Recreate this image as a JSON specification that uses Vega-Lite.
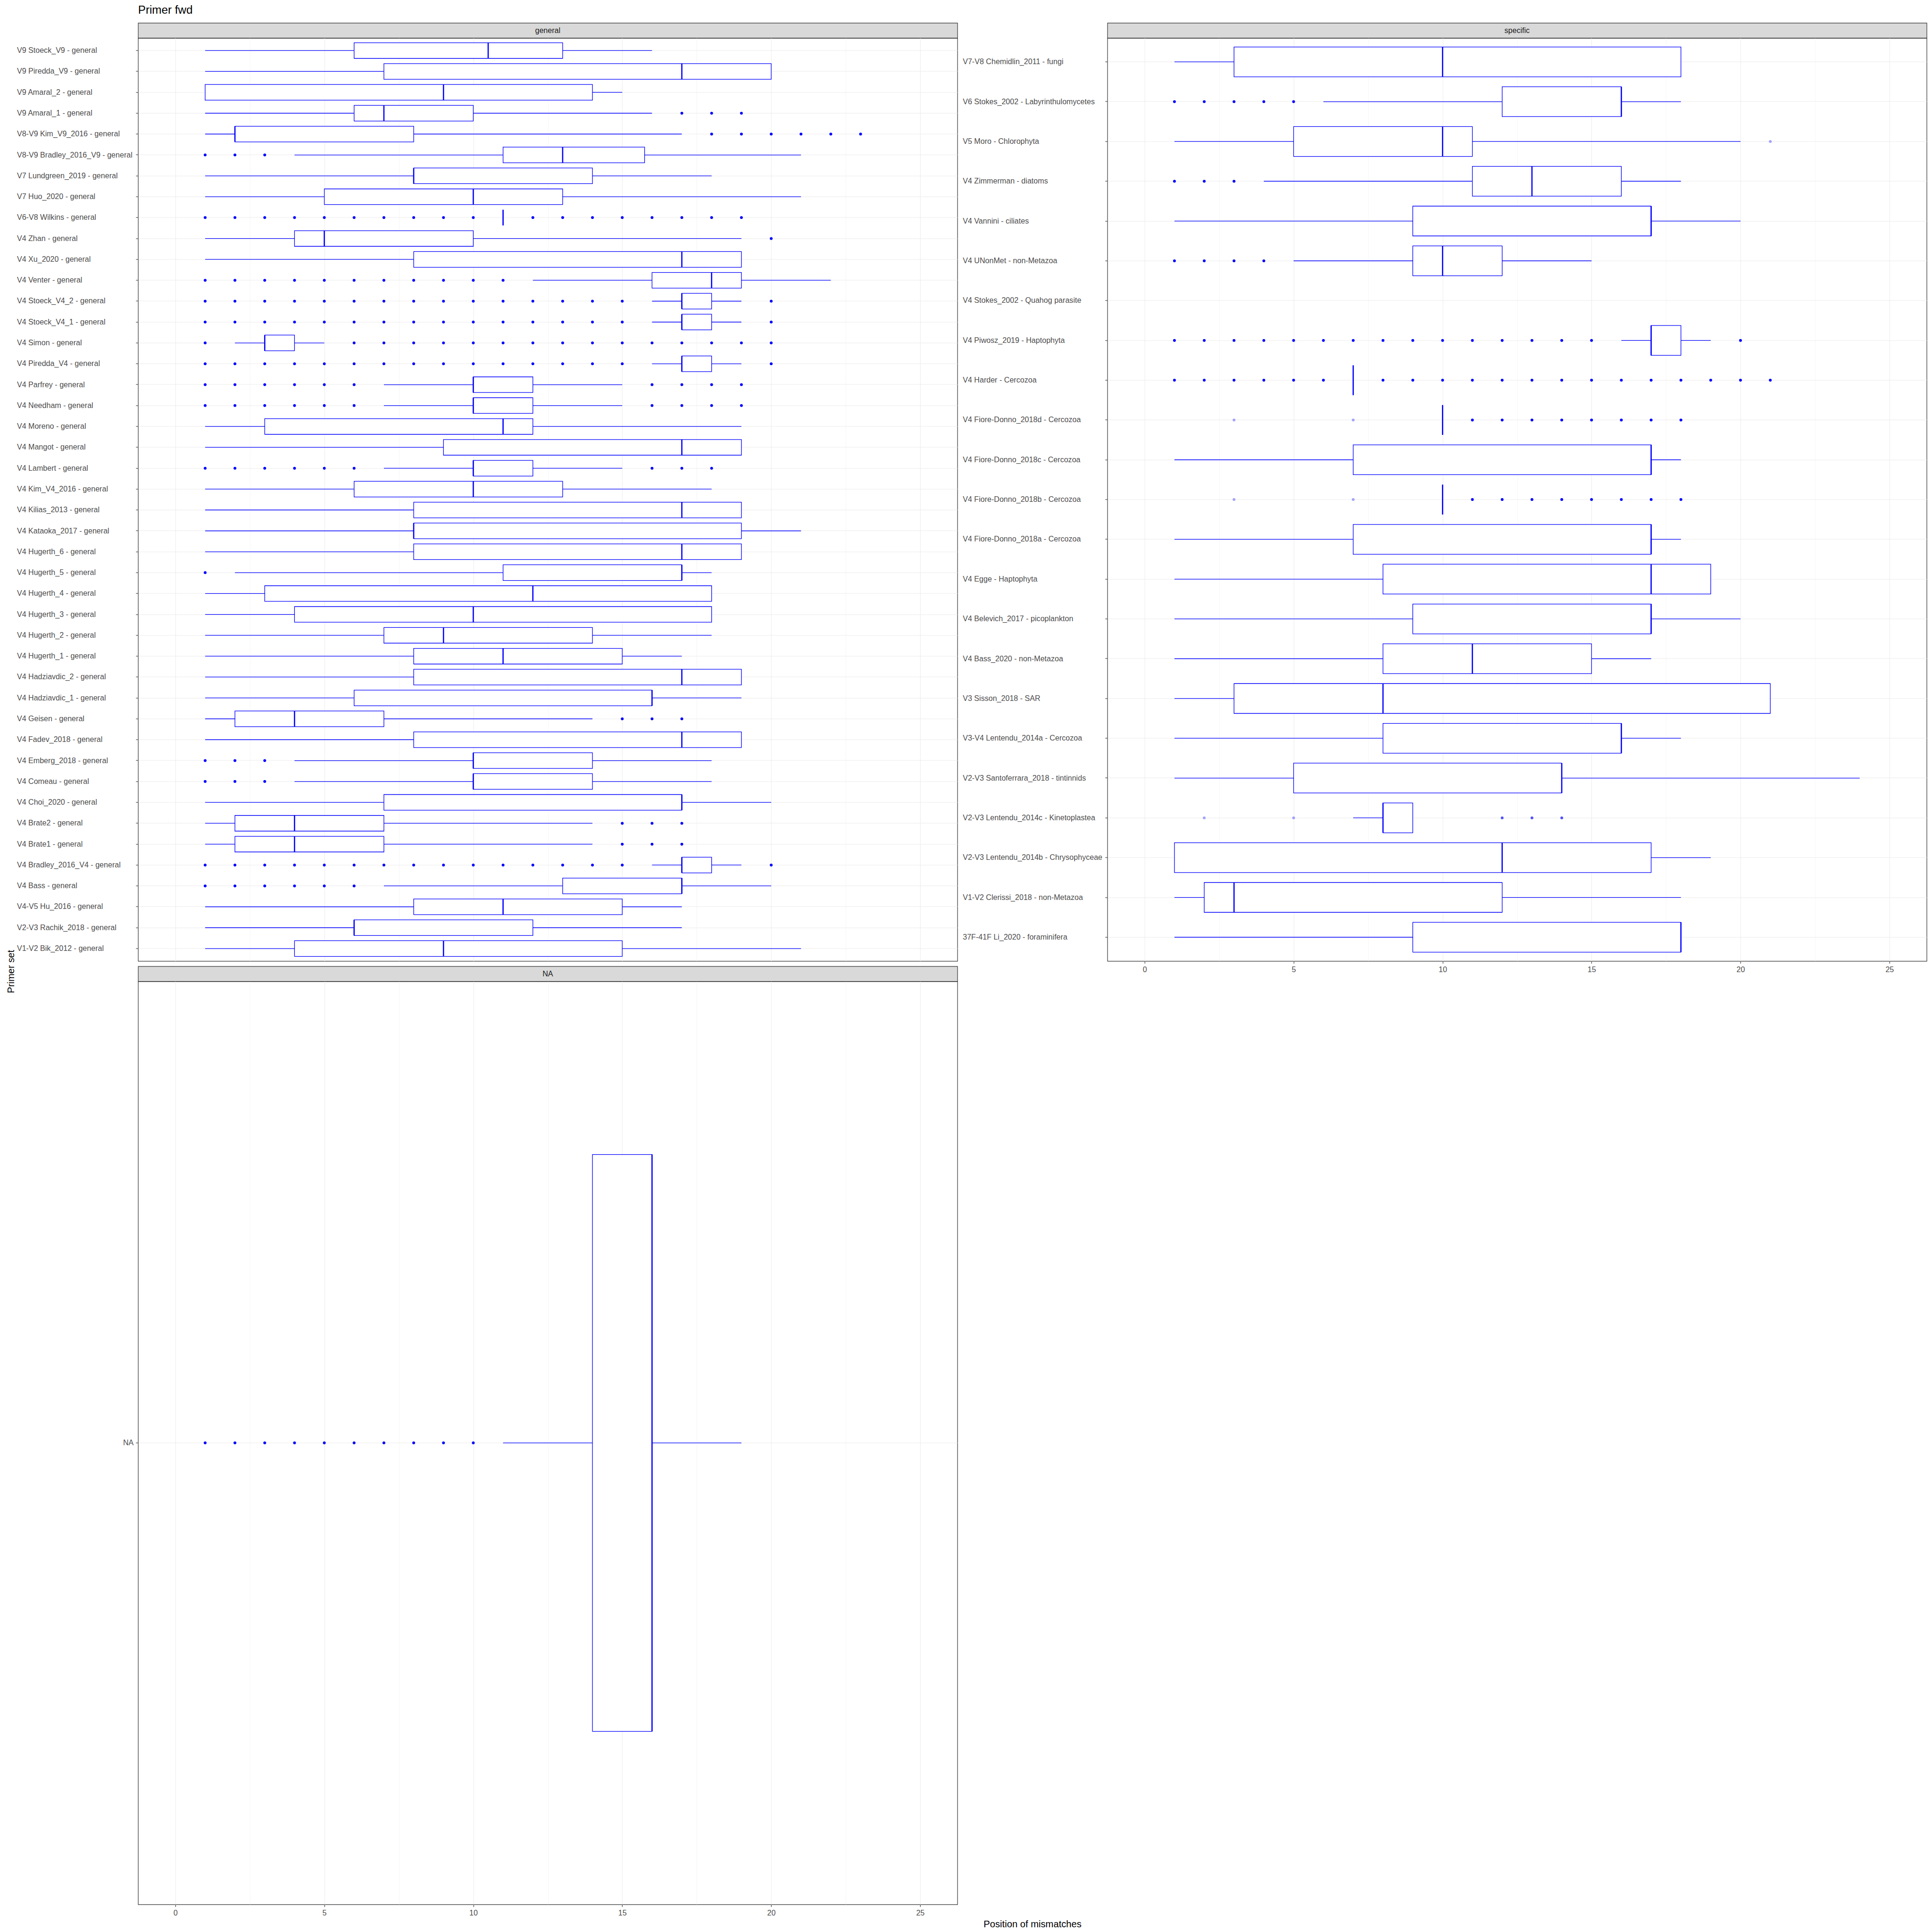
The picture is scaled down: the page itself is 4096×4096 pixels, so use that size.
{
"$schema": "https://vega.github.io/schema/vega-lite/v6.json",
"background": "white",
"padding": {"left": 12.8, "top": 9.6, "right": 4, "bottom": 4},
"datasets": {
"general_boxes": [
{"set":"V9 Stoeck_V9 - general","lo":1,"q1":6,"med":10.5,"q3":13,"hi":16},
{"set":"V9 Piredda_V9 - general","lo":1,"q1":7,"med":17,"q3":20,"hi":20},
{"set":"V9 Amaral_2 - general","lo":1,"q1":1,"med":9,"q3":14,"hi":15},
{"set":"V9 Amaral_1 - general","lo":1,"q1":6,"med":7,"q3":10,"hi":16},
{"set":"V8-V9 Kim_V9_2016 - general","lo":1,"q1":2,"med":2,"q3":8,"hi":17},
{"set":"V8-V9 Bradley_2016_V9 - general","lo":4,"q1":11,"med":13,"q3":15.75,"hi":21},
{"set":"V7 Lundgreen_2019 - general","lo":1,"q1":8,"med":8,"q3":14,"hi":18},
{"set":"V7 Huo_2020 - general","lo":1,"q1":5,"med":10,"q3":13,"hi":21},
{"set":"V6-V8 Wilkins - general","lo":11,"q1":11,"med":11,"q3":11,"hi":11},
{"set":"V4 Zhan - general","lo":1,"q1":4,"med":5,"q3":10,"hi":19},
{"set":"V4 Xu_2020 - general","lo":1,"q1":8,"med":17,"q3":19,"hi":19},
{"set":"V4 Venter - general","lo":12,"q1":16,"med":18,"q3":19,"hi":22},
{"set":"V4 Stoeck_V4_2 - general","lo":16,"q1":17,"med":17,"q3":18,"hi":19},
{"set":"V4 Stoeck_V4_1 - general","lo":16,"q1":17,"med":17,"q3":18,"hi":19},
{"set":"V4 Simon - general","lo":2,"q1":3,"med":3,"q3":4,"hi":5},
{"set":"V4 Piredda_V4 - general","lo":16,"q1":17,"med":17,"q3":18,"hi":19},
{"set":"V4 Parfrey - general","lo":7,"q1":10,"med":10,"q3":12,"hi":15},
{"set":"V4 Needham - general","lo":7,"q1":10,"med":10,"q3":12,"hi":15},
{"set":"V4 Moreno - general","lo":1,"q1":3,"med":11,"q3":12,"hi":19},
{"set":"V4 Mangot - general","lo":1,"q1":9,"med":17,"q3":19,"hi":19},
{"set":"V4 Lambert - general","lo":7,"q1":10,"med":10,"q3":12,"hi":15},
{"set":"V4 Kim_V4_2016 - general","lo":1,"q1":6,"med":10,"q3":13,"hi":18},
{"set":"V4 Kilias_2013 - general","lo":1,"q1":8,"med":17,"q3":19,"hi":19},
{"set":"V4 Kataoka_2017 - general","lo":1,"q1":8,"med":8,"q3":19,"hi":21},
{"set":"V4 Hugerth_6 - general","lo":1,"q1":8,"med":17,"q3":19,"hi":19},
{"set":"V4 Hugerth_5 - general","lo":2,"q1":11,"med":17,"q3":17,"hi":18},
{"set":"V4 Hugerth_4 - general","lo":1,"q1":3,"med":12,"q3":18,"hi":18},
{"set":"V4 Hugerth_3 - general","lo":1,"q1":4,"med":10,"q3":18,"hi":18},
{"set":"V4 Hugerth_2 - general","lo":1,"q1":7,"med":9,"q3":14,"hi":18},
{"set":"V4 Hugerth_1 - general","lo":1,"q1":8,"med":11,"q3":15,"hi":17},
{"set":"V4 Hadziavdic_2 - general","lo":1,"q1":8,"med":17,"q3":19,"hi":19},
{"set":"V4 Hadziavdic_1 - general","lo":1,"q1":6,"med":16,"q3":16,"hi":19},
{"set":"V4 Geisen - general","lo":1,"q1":2,"med":4,"q3":7,"hi":14},
{"set":"V4 Fadev_2018 - general","lo":1,"q1":8,"med":17,"q3":19,"hi":19},
{"set":"V4 Emberg_2018 - general","lo":4,"q1":10,"med":10,"q3":14,"hi":18},
{"set":"V4 Comeau - general","lo":4,"q1":10,"med":10,"q3":14,"hi":18},
{"set":"V4 Choi_2020 - general","lo":1,"q1":7,"med":17,"q3":17,"hi":20},
{"set":"V4 Brate2 - general","lo":1,"q1":2,"med":4,"q3":7,"hi":14},
{"set":"V4 Brate1 - general","lo":1,"q1":2,"med":4,"q3":7,"hi":14},
{"set":"V4 Bradley_2016_V4 - general","lo":16,"q1":17,"med":17,"q3":18,"hi":19},
{"set":"V4 Bass - general","lo":7,"q1":13,"med":17,"q3":17,"hi":20},
{"set":"V4-V5 Hu_2016 - general","lo":1,"q1":8,"med":11,"q3":15,"hi":17},
{"set":"V2-V3 Rachik_2018 - general","lo":1,"q1":6,"med":6,"q3":12,"hi":17},
{"set":"V1-V2 Bik_2012 - general","lo":1,"q1":4,"med":9,"q3":15,"hi":21}
],
"general_out": [
{"set":"V9 Amaral_1 - general","pos":17,"n":5},{"set":"V9 Amaral_1 - general","pos":18,"n":5},{"set":"V9 Amaral_1 - general","pos":19,"n":5},
{"set":"V8-V9 Kim_V9_2016 - general","pos":18,"n":5},{"set":"V8-V9 Kim_V9_2016 - general","pos":19,"n":5},{"set":"V8-V9 Kim_V9_2016 - general","pos":20,"n":5},{"set":"V8-V9 Kim_V9_2016 - general","pos":21,"n":5},{"set":"V8-V9 Kim_V9_2016 - general","pos":22,"n":5},{"set":"V8-V9 Kim_V9_2016 - general","pos":23,"n":5},
{"set":"V8-V9 Bradley_2016_V9 - general","pos":1,"n":5},{"set":"V8-V9 Bradley_2016_V9 - general","pos":2,"n":5},{"set":"V8-V9 Bradley_2016_V9 - general","pos":3,"n":5},
{"set":"V6-V8 Wilkins - general","pos":1,"n":5},{"set":"V6-V8 Wilkins - general","pos":2,"n":5},{"set":"V6-V8 Wilkins - general","pos":3,"n":5},{"set":"V6-V8 Wilkins - general","pos":4,"n":5},{"set":"V6-V8 Wilkins - general","pos":5,"n":5},{"set":"V6-V8 Wilkins - general","pos":6,"n":5},{"set":"V6-V8 Wilkins - general","pos":7,"n":5},{"set":"V6-V8 Wilkins - general","pos":8,"n":5},{"set":"V6-V8 Wilkins - general","pos":9,"n":5},{"set":"V6-V8 Wilkins - general","pos":10,"n":5},{"set":"V6-V8 Wilkins - general","pos":12,"n":5},{"set":"V6-V8 Wilkins - general","pos":13,"n":5},{"set":"V6-V8 Wilkins - general","pos":14,"n":5},{"set":"V6-V8 Wilkins - general","pos":15,"n":5},{"set":"V6-V8 Wilkins - general","pos":16,"n":5},{"set":"V6-V8 Wilkins - general","pos":17,"n":5},{"set":"V6-V8 Wilkins - general","pos":18,"n":5},{"set":"V6-V8 Wilkins - general","pos":19,"n":5},
{"set":"V4 Zhan - general","pos":20,"n":5},
{"set":"V4 Venter - general","pos":1,"n":5},{"set":"V4 Venter - general","pos":2,"n":5},{"set":"V4 Venter - general","pos":3,"n":5},{"set":"V4 Venter - general","pos":4,"n":5},{"set":"V4 Venter - general","pos":5,"n":5},{"set":"V4 Venter - general","pos":6,"n":5},{"set":"V4 Venter - general","pos":7,"n":5},{"set":"V4 Venter - general","pos":8,"n":5},{"set":"V4 Venter - general","pos":9,"n":5},{"set":"V4 Venter - general","pos":10,"n":5},{"set":"V4 Venter - general","pos":11,"n":5},
{"set":"V4 Stoeck_V4_2 - general","pos":1,"n":5},{"set":"V4 Stoeck_V4_2 - general","pos":2,"n":5},{"set":"V4 Stoeck_V4_2 - general","pos":3,"n":5},{"set":"V4 Stoeck_V4_2 - general","pos":4,"n":5},{"set":"V4 Stoeck_V4_2 - general","pos":5,"n":5},{"set":"V4 Stoeck_V4_2 - general","pos":6,"n":5},{"set":"V4 Stoeck_V4_2 - general","pos":7,"n":5},{"set":"V4 Stoeck_V4_2 - general","pos":8,"n":5},{"set":"V4 Stoeck_V4_2 - general","pos":9,"n":5},{"set":"V4 Stoeck_V4_2 - general","pos":10,"n":5},{"set":"V4 Stoeck_V4_2 - general","pos":11,"n":5},{"set":"V4 Stoeck_V4_2 - general","pos":12,"n":5},{"set":"V4 Stoeck_V4_2 - general","pos":13,"n":5},{"set":"V4 Stoeck_V4_2 - general","pos":14,"n":5},{"set":"V4 Stoeck_V4_2 - general","pos":15,"n":5},{"set":"V4 Stoeck_V4_2 - general","pos":20,"n":5},
{"set":"V4 Stoeck_V4_1 - general","pos":1,"n":5},{"set":"V4 Stoeck_V4_1 - general","pos":2,"n":5},{"set":"V4 Stoeck_V4_1 - general","pos":3,"n":5},{"set":"V4 Stoeck_V4_1 - general","pos":4,"n":5},{"set":"V4 Stoeck_V4_1 - general","pos":5,"n":5},{"set":"V4 Stoeck_V4_1 - general","pos":6,"n":5},{"set":"V4 Stoeck_V4_1 - general","pos":7,"n":5},{"set":"V4 Stoeck_V4_1 - general","pos":8,"n":5},{"set":"V4 Stoeck_V4_1 - general","pos":9,"n":5},{"set":"V4 Stoeck_V4_1 - general","pos":10,"n":5},{"set":"V4 Stoeck_V4_1 - general","pos":11,"n":5},{"set":"V4 Stoeck_V4_1 - general","pos":12,"n":5},{"set":"V4 Stoeck_V4_1 - general","pos":13,"n":5},{"set":"V4 Stoeck_V4_1 - general","pos":14,"n":5},{"set":"V4 Stoeck_V4_1 - general","pos":15,"n":5},{"set":"V4 Stoeck_V4_1 - general","pos":20,"n":5},
{"set":"V4 Simon - general","pos":1,"n":5},{"set":"V4 Simon - general","pos":6,"n":5},{"set":"V4 Simon - general","pos":7,"n":5},{"set":"V4 Simon - general","pos":8,"n":5},{"set":"V4 Simon - general","pos":9,"n":5},{"set":"V4 Simon - general","pos":10,"n":5},{"set":"V4 Simon - general","pos":11,"n":5},{"set":"V4 Simon - general","pos":12,"n":5},{"set":"V4 Simon - general","pos":13,"n":5},{"set":"V4 Simon - general","pos":14,"n":5},{"set":"V4 Simon - general","pos":15,"n":5},{"set":"V4 Simon - general","pos":16,"n":5},{"set":"V4 Simon - general","pos":17,"n":5},{"set":"V4 Simon - general","pos":18,"n":5},{"set":"V4 Simon - general","pos":19,"n":5},{"set":"V4 Simon - general","pos":20,"n":5},
{"set":"V4 Piredda_V4 - general","pos":1,"n":5},{"set":"V4 Piredda_V4 - general","pos":2,"n":5},{"set":"V4 Piredda_V4 - general","pos":3,"n":5},{"set":"V4 Piredda_V4 - general","pos":4,"n":5},{"set":"V4 Piredda_V4 - general","pos":5,"n":5},{"set":"V4 Piredda_V4 - general","pos":6,"n":5},{"set":"V4 Piredda_V4 - general","pos":7,"n":5},{"set":"V4 Piredda_V4 - general","pos":8,"n":5},{"set":"V4 Piredda_V4 - general","pos":9,"n":5},{"set":"V4 Piredda_V4 - general","pos":10,"n":5},{"set":"V4 Piredda_V4 - general","pos":11,"n":5},{"set":"V4 Piredda_V4 - general","pos":12,"n":5},{"set":"V4 Piredda_V4 - general","pos":13,"n":5},{"set":"V4 Piredda_V4 - general","pos":14,"n":5},{"set":"V4 Piredda_V4 - general","pos":15,"n":5},{"set":"V4 Piredda_V4 - general","pos":20,"n":5},
{"set":"V4 Parfrey - general","pos":1,"n":5},{"set":"V4 Parfrey - general","pos":2,"n":5},{"set":"V4 Parfrey - general","pos":3,"n":5},{"set":"V4 Parfrey - general","pos":4,"n":5},{"set":"V4 Parfrey - general","pos":5,"n":5},{"set":"V4 Parfrey - general","pos":6,"n":5},{"set":"V4 Parfrey - general","pos":16,"n":5},{"set":"V4 Parfrey - general","pos":17,"n":5},{"set":"V4 Parfrey - general","pos":18,"n":5},{"set":"V4 Parfrey - general","pos":19,"n":5},
{"set":"V4 Needham - general","pos":1,"n":5},{"set":"V4 Needham - general","pos":2,"n":5},{"set":"V4 Needham - general","pos":3,"n":5},{"set":"V4 Needham - general","pos":4,"n":5},{"set":"V4 Needham - general","pos":5,"n":5},{"set":"V4 Needham - general","pos":6,"n":5},{"set":"V4 Needham - general","pos":16,"n":5},{"set":"V4 Needham - general","pos":17,"n":5},{"set":"V4 Needham - general","pos":18,"n":5},{"set":"V4 Needham - general","pos":19,"n":5},
{"set":"V4 Lambert - general","pos":1,"n":5},{"set":"V4 Lambert - general","pos":2,"n":5},{"set":"V4 Lambert - general","pos":3,"n":5},{"set":"V4 Lambert - general","pos":4,"n":5},{"set":"V4 Lambert - general","pos":5,"n":5},{"set":"V4 Lambert - general","pos":6,"n":5},{"set":"V4 Lambert - general","pos":16,"n":5},{"set":"V4 Lambert - general","pos":17,"n":5},{"set":"V4 Lambert - general","pos":18,"n":5},
{"set":"V4 Hugerth_5 - general","pos":1,"n":5},
{"set":"V4 Geisen - general","pos":15,"n":5},{"set":"V4 Geisen - general","pos":16,"n":5},{"set":"V4 Geisen - general","pos":17,"n":5},
{"set":"V4 Emberg_2018 - general","pos":1,"n":5},{"set":"V4 Emberg_2018 - general","pos":2,"n":5},{"set":"V4 Emberg_2018 - general","pos":3,"n":5},
{"set":"V4 Comeau - general","pos":1,"n":5},{"set":"V4 Comeau - general","pos":2,"n":5},{"set":"V4 Comeau - general","pos":3,"n":5},
{"set":"V4 Brate2 - general","pos":15,"n":5},{"set":"V4 Brate2 - general","pos":16,"n":5},{"set":"V4 Brate2 - general","pos":17,"n":5},
{"set":"V4 Brate1 - general","pos":15,"n":5},{"set":"V4 Brate1 - general","pos":16,"n":5},{"set":"V4 Brate1 - general","pos":17,"n":5},
{"set":"V4 Bradley_2016_V4 - general","pos":1,"n":5},{"set":"V4 Bradley_2016_V4 - general","pos":2,"n":5},{"set":"V4 Bradley_2016_V4 - general","pos":3,"n":5},{"set":"V4 Bradley_2016_V4 - general","pos":4,"n":5},{"set":"V4 Bradley_2016_V4 - general","pos":5,"n":5},{"set":"V4 Bradley_2016_V4 - general","pos":6,"n":5},{"set":"V4 Bradley_2016_V4 - general","pos":7,"n":5},{"set":"V4 Bradley_2016_V4 - general","pos":8,"n":5},{"set":"V4 Bradley_2016_V4 - general","pos":9,"n":5},{"set":"V4 Bradley_2016_V4 - general","pos":10,"n":5},{"set":"V4 Bradley_2016_V4 - general","pos":11,"n":5},{"set":"V4 Bradley_2016_V4 - general","pos":12,"n":5},{"set":"V4 Bradley_2016_V4 - general","pos":13,"n":5},{"set":"V4 Bradley_2016_V4 - general","pos":14,"n":5},{"set":"V4 Bradley_2016_V4 - general","pos":15,"n":5},{"set":"V4 Bradley_2016_V4 - general","pos":20,"n":5},
{"set":"V4 Bass - general","pos":1,"n":5},{"set":"V4 Bass - general","pos":2,"n":5},{"set":"V4 Bass - general","pos":3,"n":5},{"set":"V4 Bass - general","pos":4,"n":5},{"set":"V4 Bass - general","pos":5,"n":5},{"set":"V4 Bass - general","pos":6,"n":5}
],
"specific_boxes": [
{"set":"V7-V8 Chemidlin_2011 - fungi","lo":1,"q1":3,"med":10,"q3":18,"hi":18},
{"set":"V6 Stokes_2002 - Labyrinthulomycetes","lo":6,"q1":12,"med":16,"q3":16,"hi":18},
{"set":"V5 Moro - Chlorophyta","lo":1,"q1":5,"med":10,"q3":11,"hi":20},
{"set":"V4 Zimmerman - diatoms","lo":4,"q1":11,"med":13,"q3":16,"hi":18},
{"set":"V4 Vannini - ciliates","lo":1,"q1":9,"med":17,"q3":17,"hi":20},
{"set":"V4 UNonMet - non-Metazoa","lo":5,"q1":9,"med":10,"q3":12,"hi":15},
{"set":"V4 Piwosz_2019 - Haptophyta","lo":16,"q1":17,"med":17,"q3":18,"hi":19},
{"set":"V4 Harder - Cercozoa","lo":7,"q1":7,"med":7,"q3":7,"hi":7},
{"set":"V4 Fiore-Donno_2018d - Cercozoa","lo":10,"q1":10,"med":10,"q3":10,"hi":10},
{"set":"V4 Fiore-Donno_2018c - Cercozoa","lo":1,"q1":7,"med":17,"q3":17,"hi":18},
{"set":"V4 Fiore-Donno_2018b - Cercozoa","lo":10,"q1":10,"med":10,"q3":10,"hi":10},
{"set":"V4 Fiore-Donno_2018a - Cercozoa","lo":1,"q1":7,"med":17,"q3":17,"hi":18},
{"set":"V4 Egge - Haptophyta","lo":1,"q1":8,"med":17,"q3":19,"hi":19},
{"set":"V4 Belevich_2017 - picoplankton","lo":1,"q1":9,"med":17,"q3":17,"hi":20},
{"set":"V4 Bass_2020 - non-Metazoa","lo":1,"q1":8,"med":11,"q3":15,"hi":17},
{"set":"V3 Sisson_2018 - SAR","lo":1,"q1":3,"med":8,"q3":21,"hi":21},
{"set":"V3-V4 Lentendu_2014a - Cercozoa","lo":1,"q1":8,"med":16,"q3":16,"hi":18},
{"set":"V2-V3 Santoferrara_2018 - tintinnids","lo":1,"q1":5,"med":14,"q3":14,"hi":24},
{"set":"V2-V3 Lentendu_2014c - Kinetoplastea","lo":7,"q1":8,"med":8,"q3":9,"hi":9},
{"set":"V2-V3 Lentendu_2014b - Chrysophyceae","lo":1,"q1":1,"med":12,"q3":17,"hi":19},
{"set":"V1-V2 Clerissi_2018 - non-Metazoa","lo":1,"q1":2,"med":3,"q3":12,"hi":18},
{"set":"37F-41F Li_2020 - foraminifera","lo":1,"q1":9,"med":18,"q3":18,"hi":18}
],
"specific_out": [
{"set":"V6 Stokes_2002 - Labyrinthulomycetes","pos":1,"n":5},{"set":"V6 Stokes_2002 - Labyrinthulomycetes","pos":2,"n":5},{"set":"V6 Stokes_2002 - Labyrinthulomycetes","pos":3,"n":5},{"set":"V6 Stokes_2002 - Labyrinthulomycetes","pos":4,"n":5},{"set":"V6 Stokes_2002 - Labyrinthulomycetes","pos":5,"n":5},
{"set":"V5 Moro - Chlorophyta","pos":21,"n":1},
{"set":"V4 Zimmerman - diatoms","pos":1,"n":5},{"set":"V4 Zimmerman - diatoms","pos":2,"n":5},{"set":"V4 Zimmerman - diatoms","pos":3,"n":5},
{"set":"V4 UNonMet - non-Metazoa","pos":1,"n":5},{"set":"V4 UNonMet - non-Metazoa","pos":2,"n":5},{"set":"V4 UNonMet - non-Metazoa","pos":3,"n":5},{"set":"V4 UNonMet - non-Metazoa","pos":4,"n":5},
{"set":"V4 Piwosz_2019 - Haptophyta","pos":1,"n":5},{"set":"V4 Piwosz_2019 - Haptophyta","pos":2,"n":5},{"set":"V4 Piwosz_2019 - Haptophyta","pos":3,"n":5},{"set":"V4 Piwosz_2019 - Haptophyta","pos":4,"n":5},{"set":"V4 Piwosz_2019 - Haptophyta","pos":5,"n":5},{"set":"V4 Piwosz_2019 - Haptophyta","pos":6,"n":5},{"set":"V4 Piwosz_2019 - Haptophyta","pos":7,"n":5},{"set":"V4 Piwosz_2019 - Haptophyta","pos":8,"n":5},{"set":"V4 Piwosz_2019 - Haptophyta","pos":9,"n":5},{"set":"V4 Piwosz_2019 - Haptophyta","pos":10,"n":5},{"set":"V4 Piwosz_2019 - Haptophyta","pos":11,"n":5},{"set":"V4 Piwosz_2019 - Haptophyta","pos":12,"n":5},{"set":"V4 Piwosz_2019 - Haptophyta","pos":13,"n":5},{"set":"V4 Piwosz_2019 - Haptophyta","pos":14,"n":5},{"set":"V4 Piwosz_2019 - Haptophyta","pos":15,"n":5},{"set":"V4 Piwosz_2019 - Haptophyta","pos":20,"n":5},
{"set":"V4 Harder - Cercozoa","pos":1,"n":5},{"set":"V4 Harder - Cercozoa","pos":2,"n":5},{"set":"V4 Harder - Cercozoa","pos":3,"n":5},{"set":"V4 Harder - Cercozoa","pos":4,"n":5},{"set":"V4 Harder - Cercozoa","pos":5,"n":5},{"set":"V4 Harder - Cercozoa","pos":6,"n":5},{"set":"V4 Harder - Cercozoa","pos":8,"n":5},{"set":"V4 Harder - Cercozoa","pos":9,"n":5},{"set":"V4 Harder - Cercozoa","pos":10,"n":5},{"set":"V4 Harder - Cercozoa","pos":11,"n":5},{"set":"V4 Harder - Cercozoa","pos":12,"n":5},{"set":"V4 Harder - Cercozoa","pos":13,"n":5},{"set":"V4 Harder - Cercozoa","pos":14,"n":5},{"set":"V4 Harder - Cercozoa","pos":15,"n":5},{"set":"V4 Harder - Cercozoa","pos":16,"n":5},{"set":"V4 Harder - Cercozoa","pos":17,"n":5},{"set":"V4 Harder - Cercozoa","pos":18,"n":5},{"set":"V4 Harder - Cercozoa","pos":19,"n":5},{"set":"V4 Harder - Cercozoa","pos":20,"n":5},{"set":"V4 Harder - Cercozoa","pos":21,"n":5},
{"set":"V4 Fiore-Donno_2018d - Cercozoa","pos":3,"n":1},{"set":"V4 Fiore-Donno_2018d - Cercozoa","pos":7,"n":1},{"set":"V4 Fiore-Donno_2018d - Cercozoa","pos":11,"n":5},{"set":"V4 Fiore-Donno_2018d - Cercozoa","pos":12,"n":5},{"set":"V4 Fiore-Donno_2018d - Cercozoa","pos":13,"n":5},{"set":"V4 Fiore-Donno_2018d - Cercozoa","pos":14,"n":5},{"set":"V4 Fiore-Donno_2018d - Cercozoa","pos":15,"n":5},{"set":"V4 Fiore-Donno_2018d - Cercozoa","pos":16,"n":5},{"set":"V4 Fiore-Donno_2018d - Cercozoa","pos":17,"n":5},{"set":"V4 Fiore-Donno_2018d - Cercozoa","pos":18,"n":5},
{"set":"V4 Fiore-Donno_2018b - Cercozoa","pos":3,"n":1},{"set":"V4 Fiore-Donno_2018b - Cercozoa","pos":7,"n":1},{"set":"V4 Fiore-Donno_2018b - Cercozoa","pos":11,"n":5},{"set":"V4 Fiore-Donno_2018b - Cercozoa","pos":12,"n":5},{"set":"V4 Fiore-Donno_2018b - Cercozoa","pos":13,"n":5},{"set":"V4 Fiore-Donno_2018b - Cercozoa","pos":14,"n":5},{"set":"V4 Fiore-Donno_2018b - Cercozoa","pos":15,"n":5},{"set":"V4 Fiore-Donno_2018b - Cercozoa","pos":16,"n":5},{"set":"V4 Fiore-Donno_2018b - Cercozoa","pos":17,"n":5},{"set":"V4 Fiore-Donno_2018b - Cercozoa","pos":18,"n":5},
{"set":"V2-V3 Lentendu_2014c - Kinetoplastea","pos":2,"n":1},{"set":"V2-V3 Lentendu_2014c - Kinetoplastea","pos":5,"n":1},{"set":"V2-V3 Lentendu_2014c - Kinetoplastea","pos":12,"n":2},{"set":"V2-V3 Lentendu_2014c - Kinetoplastea","pos":13,"n":2},{"set":"V2-V3 Lentendu_2014c - Kinetoplastea","pos":14,"n":2}
],
"na_boxes": [
{"set":"NA","lo":11,"q1":14,"med":16,"q3":16,"hi":19}
],
"na_out": [
{"set":"NA","pos":1,"n":5},{"set":"NA","pos":2,"n":5},{"set":"NA","pos":3,"n":5},{"set":"NA","pos":4,"n":5},{"set":"NA","pos":5,"n":5},{"set":"NA","pos":6,"n":5},{"set":"NA","pos":7,"n":5},{"set":"NA","pos":8,"n":5},{"set":"NA","pos":9,"n":5},{"set":"NA","pos":10,"n":5}
]
},
"concat": [
{
"width": 1737, "height": 32,
"view": {"fill": "#D9D9D9", "stroke": "#333333", "strokeWidth": 1.2},
"title": {"text": "Primer fwd", "anchor": "start", "frame": "group", "offset": 14},
"data": {"values": [{"panel": "general"}]},
"mark": {"type": "text", "fontSize": 16.1, "color": "#1A1A1A"},
"encoding": {"text": {"field": "panel"}}
},
{
"width": 1737, "height": 32,
"view": {"fill": "#D9D9D9", "stroke": "#333333", "strokeWidth": 1.2},
"data": {"values": [{"panel": "specific"}]},
"mark": {"type": "text", "fontSize": 16.1, "color": "#1A1A1A"},
"encoding": {"text": {"field": "panel"}}
},
{
"width": 1737, "height": 1957,
"view": {"stroke": "#333333", "strokeWidth": 1.2},
"resolve": {"axis": {"x": "independent"}},
"encoding": {"y": {"field": "set", "type": "nominal",
  "scale": {"paddingInner": 0, "paddingOuter": 0.1, "domain": ["V9 Stoeck_V9 - general","V9 Piredda_V9 - general","V9 Amaral_2 - general","V9 Amaral_1 - general","V8-V9 Kim_V9_2016 - general","V8-V9 Bradley_2016_V9 - general","V7 Lundgreen_2019 - general","V7 Huo_2020 - general","V6-V8 Wilkins - general","V4 Zhan - general","V4 Xu_2020 - general","V4 Venter - general","V4 Stoeck_V4_2 - general","V4 Stoeck_V4_1 - general","V4 Simon - general","V4 Piredda_V4 - general","V4 Parfrey - general","V4 Needham - general","V4 Moreno - general","V4 Mangot - general","V4 Lambert - general","V4 Kim_V4_2016 - general","V4 Kilias_2013 - general","V4 Kataoka_2017 - general","V4 Hugerth_6 - general","V4 Hugerth_5 - general","V4 Hugerth_4 - general","V4 Hugerth_3 - general","V4 Hugerth_2 - general","V4 Hugerth_1 - general","V4 Hadziavdic_2 - general","V4 Hadziavdic_1 - general","V4 Geisen - general","V4 Fadev_2018 - general","V4 Emberg_2018 - general","V4 Comeau - general","V4 Choi_2020 - general","V4 Brate2 - general","V4 Brate1 - general","V4 Bradley_2016_V4 - general","V4 Bass - general","V4-V5 Hu_2016 - general","V2-V3 Rachik_2018 - general","V1-V2 Bik_2012 - general"]},
  "axis": {"labelAlign": "left", "labelPadding": 252.4, "grid": true, "gridWidth": 1, "bandPosition": 0.5, "title": "Primer set", "titleX": -263.2, "titleY": 1978.7, "titleAngle": 270, "titleAlign": "center", "titleBaseline": "alphabetic"}}},
"layer": [
{"data": {"name": "general_boxes"}, "mark": {"type": "rule", "color": "#0000FF", "strokeWidth": 1.3, "opacity": 1},
 "encoding": {"x": {"field": "lo", "type": "quantitative", "scale": {"domain": [-1.25, 26.25], "nice": false, "zero": false},
   "axis": {"values": [0,2.5,5,7.5,10,12.5,15,17.5,20,22.5,25], "grid": true, "gridWidth": {"condition": {"test": "datum.value % 5 !== 0", "value": 0.5}, "value": 1}, "labels": false, "ticks": false, "domain": false, "title": null}},
  "x2": {"field": "hi"}}},
{"data": {"name": "general_boxes"}, "mark": {"type": "bar", "fill": "white", "stroke": "#0000FF", "strokeWidth": 1.3, "opacity": 1, "height": {"band": 0.75}},
 "encoding": {"x": {"field": "q1", "type": "quantitative", "scale": {"domain": [-1.25, 26.25], "nice": false, "zero": false}, "axis": null}, "x2": {"field": "q3"}}},
{"data": {"name": "general_boxes"}, "mark": {"type": "bar", "fill": null, "stroke": "#0000FF", "strokeWidth": 2.6, "opacity": 1, "height": {"band": 0.75}},
 "encoding": {"x": {"field": "med", "type": "quantitative", "scale": {"domain": [-1.25, 26.25], "nice": false, "zero": false}, "axis": null}, "x2": {"field": "med"}}},
{"data": {"name": "general_out"}, "mark": {"type": "circle", "color": "#0000FF", "size": 36},
 "encoding": {"x": {"field": "pos", "type": "quantitative", "scale": {"domain": [-1.25, 26.25], "nice": false, "zero": false}, "axis": null},
  "opacity": {"field": "n", "type": "quantitative", "scale": {"domain": [1, 3], "range": [0.35, 1], "clamp": true}, "legend": null}}}
]
},
{
"width": 1737, "height": 1957,
"view": {"stroke": "#333333", "strokeWidth": 1.2},
"resolve": {"axis": {"x": "independent"}},
"encoding": {"y": {"field": "set", "type": "nominal",
  "scale": {"paddingInner": 0, "paddingOuter": 0.1, "domain": ["V7-V8 Chemidlin_2011 - fungi","V6 Stokes_2002 - Labyrinthulomycetes","V5 Moro - Chlorophyta","V4 Zimmerman - diatoms","V4 Vannini - ciliates","V4 UNonMet - non-Metazoa","V4 Stokes_2002 - Quahog parasite","V4 Piwosz_2019 - Haptophyta","V4 Harder - Cercozoa","V4 Fiore-Donno_2018d - Cercozoa","V4 Fiore-Donno_2018c - Cercozoa","V4 Fiore-Donno_2018b - Cercozoa","V4 Fiore-Donno_2018a - Cercozoa","V4 Egge - Haptophyta","V4 Belevich_2017 - picoplankton","V4 Bass_2020 - non-Metazoa","V3 Sisson_2018 - SAR","V3-V4 Lentendu_2014a - Cercozoa","V2-V3 Santoferrara_2018 - tintinnids","V2-V3 Lentendu_2014c - Kinetoplastea","V2-V3 Lentendu_2014b - Chrysophyceae","V1-V2 Clerissi_2018 - non-Metazoa","37F-41F Li_2020 - foraminifera"]},
  "axis": {"labelAlign": "left", "labelPadding": 302.1, "grid": true, "gridWidth": 1, "bandPosition": 0.5, "title": null}}},
"layer": [
{"data": {"name": "specific_boxes"}, "mark": {"type": "rule", "color": "#0000FF", "strokeWidth": 1.3, "opacity": 1},
 "encoding": {"x": {"field": "lo", "type": "quantitative", "scale": {"domain": [-1.25, 26.25], "nice": false, "zero": false},
   "axis": {"values": [0,2.5,5,7.5,10,12.5,15,17.5,20,22.5,25], "grid": true, "gridWidth": {"condition": {"test": "datum.value % 5 !== 0", "value": 0.5}, "value": 1}, "tickOpacity": {"condition": {"test": "datum.value % 5 !== 0", "value": 0}, "value": 1}, "labelExpr": "datum.value % 5 === 0 ? datum.label : ''", "domain": false, "title": null}},
  "x2": {"field": "hi"}}},
{"data": {"name": "specific_boxes"}, "mark": {"type": "bar", "fill": "white", "stroke": "#0000FF", "strokeWidth": 1.3, "opacity": 1, "height": {"band": 0.75}},
 "encoding": {"x": {"field": "q1", "type": "quantitative", "scale": {"domain": [-1.25, 26.25], "nice": false, "zero": false}, "axis": null}, "x2": {"field": "q3"}}},
{"data": {"name": "specific_boxes"}, "mark": {"type": "bar", "fill": null, "stroke": "#0000FF", "strokeWidth": 2.6, "opacity": 1, "height": {"band": 0.75}},
 "encoding": {"x": {"field": "med", "type": "quantitative", "scale": {"domain": [-1.25, 26.25], "nice": false, "zero": false}, "axis": null}, "x2": {"field": "med"}}},
{"data": {"name": "specific_out"}, "mark": {"type": "circle", "color": "#0000FF", "size": 36},
 "encoding": {"x": {"field": "pos", "type": "quantitative", "scale": {"domain": [-1.25, 26.25], "nice": false, "zero": false}, "axis": null},
  "opacity": {"field": "n", "type": "quantitative", "scale": {"domain": [1, 3], "range": [0.35, 1], "clamp": true}, "legend": null}}}
]
},
{"width": 1, "height": 11, "data": {"values": [{"panel": ""}]}, "mark": {"type": "text"}, "encoding": {"text": {"field": "panel"}}},
{"width": 1, "height": 11, "data": {"values": [{"panel": ""}]}, "mark": {"type": "text"}, "encoding": {"text": {"field": "panel"}}},
{
"width": 1737, "height": 32,
"view": {"fill": "#D9D9D9", "stroke": "#333333", "strokeWidth": 1.2},
"data": {"values": [{"panel": "NA"}]},
"mark": {"type": "text", "fontSize": 16.1, "color": "#1A1A1A"},
"encoding": {"text": {"field": "panel"}}
},
{"width": 1, "height": 11, "data": {"values": [{"panel": ""}]}, "mark": {"type": "text"}, "encoding": {"text": {"field": "panel"}}},
{
"width": 1737, "height": 1957,
"view": {"stroke": "#333333", "strokeWidth": 1.2},
"resolve": {"axis": {"x": "independent"}},
"encoding": {"y": {"field": "set", "type": "nominal",
  "scale": {"paddingInner": 0, "paddingOuter": 0.1, "domain": ["NA"]},
  "axis": {"labelAlign": "right", "labelPadding": 5, "grid": true, "gridWidth": 1, "bandPosition": 0.5, "title": null}}},
"layer": [
{"data": {"name": "na_boxes"}, "mark": {"type": "rule", "color": "#0000FF", "strokeWidth": 1.3, "opacity": 1},
 "encoding": {"x": {"field": "lo", "type": "quantitative", "scale": {"domain": [-1.25, 26.25], "nice": false, "zero": false},
   "axis": {"values": [0,2.5,5,7.5,10,12.5,15,17.5,20,22.5,25], "grid": true, "gridWidth": {"condition": {"test": "datum.value % 5 !== 0", "value": 0.5}, "value": 1}, "tickOpacity": {"condition": {"test": "datum.value % 5 !== 0", "value": 0}, "value": 1}, "labelExpr": "datum.value % 5 === 0 ? datum.label : ''", "domain": false,
     "title": "Position of mismatches", "titleX": 1895.8, "titleY": 48.4, "titleAlign": "center", "titleBaseline": "alphabetic", "titleAngle": 0}},
  "x2": {"field": "hi"}}},
{"data": {"name": "na_boxes"}, "mark": {"type": "bar", "fill": "white", "stroke": "#0000FF", "strokeWidth": 1.3, "opacity": 1, "height": {"band": 0.75}},
 "encoding": {"x": {"field": "q1", "type": "quantitative", "scale": {"domain": [-1.25, 26.25], "nice": false, "zero": false}, "axis": null}, "x2": {"field": "q3"}}},
{"data": {"name": "na_boxes"}, "mark": {"type": "bar", "fill": null, "stroke": "#0000FF", "strokeWidth": 2.6, "opacity": 1, "height": {"band": 0.75}},
 "encoding": {"x": {"field": "med", "type": "quantitative", "scale": {"domain": [-1.25, 26.25], "nice": false, "zero": false}, "axis": null}, "x2": {"field": "med"}}},
{"data": {"name": "na_out"}, "mark": {"type": "circle", "color": "#0000FF", "size": 36},
 "encoding": {"x": {"field": "pos", "type": "quantitative", "scale": {"domain": [-1.25, 26.25], "nice": false, "zero": false}, "axis": null},
  "opacity": {"field": "n", "type": "quantitative", "scale": {"domain": [1, 3], "range": [0.35, 1], "clamp": true}, "legend": null}}}
]
}
],
"columns": 2,
"bounds": "flush",
"align": "each",
"spacing": {"row": 0, "column": 318},
"config": {
 "font": "Liberation Sans",
 "view": {"stroke": null},
 "axis": {"gridColor": "#EBEBEB", "tickColor": "#333333", "tickWidth": 1.1, "tickSize": 5, "labelColor": "#4D4D4D", "labelFontSize": 16.1, "labelFont": "Liberation Sans", "labelPadding": 5, "labelLimit": 1000, "labelOverlap": false, "labelFlush": false, "domain": false, "titleFont": "Liberation Sans", "titleFontWeight": "normal", "titleColor": "#000000", "titleFontSize": 20.2},
 "title": {"font": "Liberation Sans", "fontSize": 24.2, "fontWeight": "normal", "color": "#000000"}
}
}
